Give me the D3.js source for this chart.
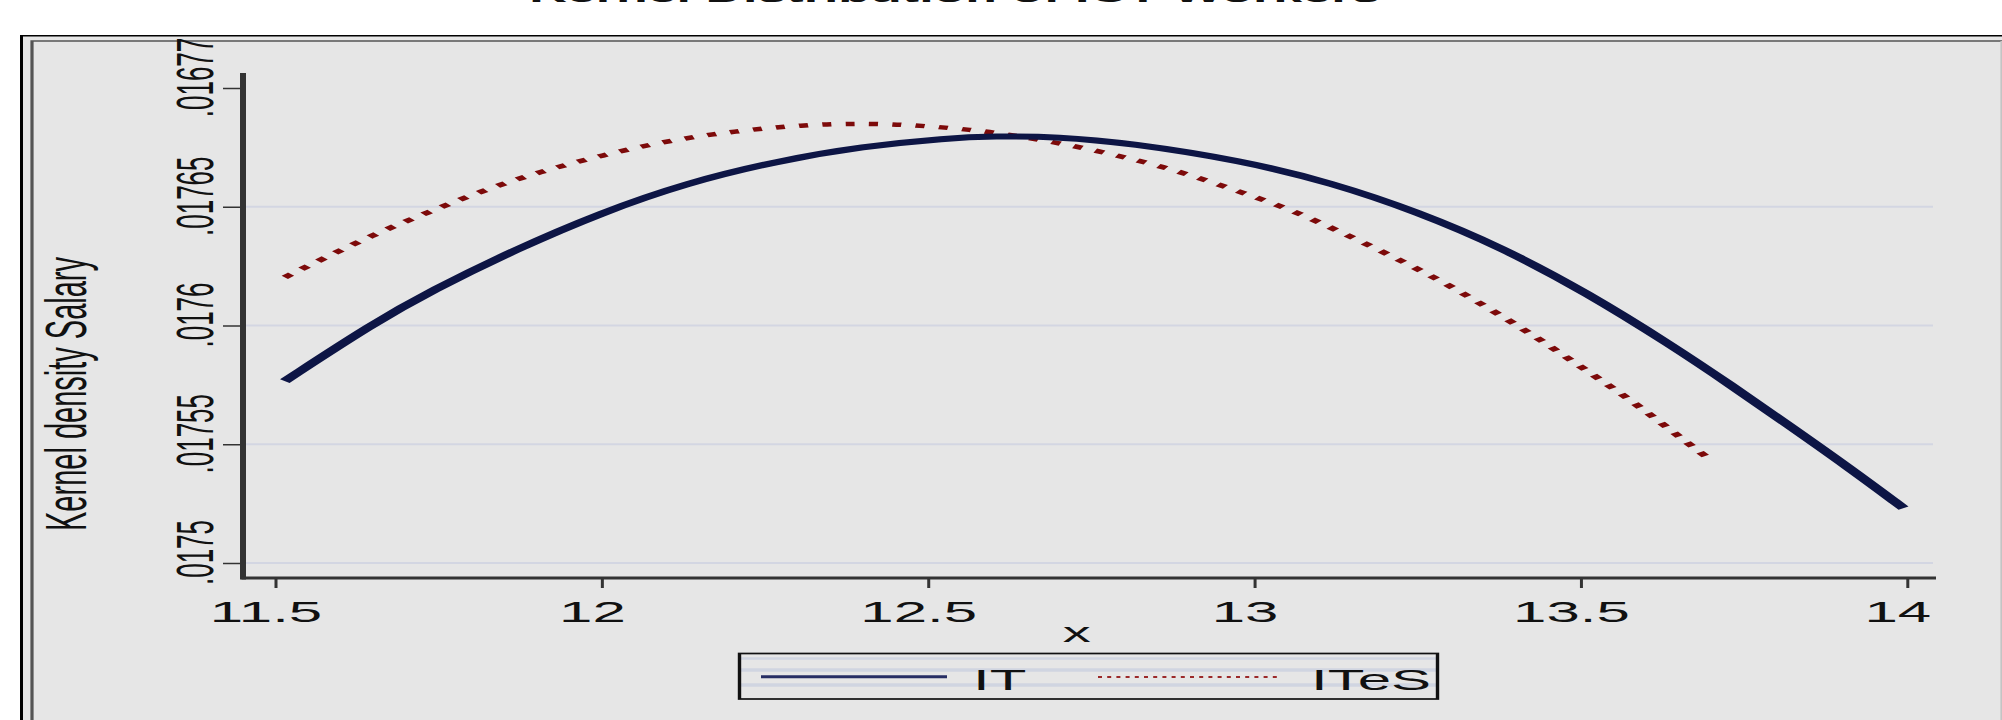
<!DOCTYPE html>
<html>
<head>
<meta charset="utf-8">
<script src="https://cdn.jsdelivr.net/npm/d3@7"></script>
<style>
  html, body { margin: 0; padding: 0; background: #ffffff; }
  svg { display: block; }
  text { font-family: "Liberation Sans", Arial, sans-serif; fill: #111; }
</style>
</head>
<body>
<svg id="chart" width="2002" height="720"></svg>
<script>
// ---------- data ----------
const titleText = "Kernel Distribution of ICT Workers";
const yTitle = "Kernel density Salary";
const xTitle = "x";
const seriesNames = ["IT", "ITeS"];

const xTicks = [11.5, 12, 12.5, 13, 13.5, 14];
const xTickLabels = ["11.5", "12", "12.5", "13", "13.5", "14"];
const yTicks = [0.0175, 0.01755, 0.0176, 0.01765, 0.0177];
const yTickLabels = [".0175", ".01755", ".0176", ".01765", ".01677"];
const yGridTicks = [0.0175, 0.01755, 0.0176, 0.01765];

const itX = [11.515, 11.65, 11.74, 11.87, 12.0, 12.13, 12.27, 12.4, 12.53, 12.6, 12.7, 12.81, 12.98, 13.12, 13.25, 13.38, 13.51, 13.64, 13.73, 13.82, 13.91, 13.995];
const itY = [0.0175766, 0.0176008, 0.0176147, 0.0176322, 0.0176475, 0.0176600, 0.0176693, 0.0176754, 0.0176789, 0.0176797, 0.0176795, 0.0176768, 0.0176695, 0.0176600, 0.0176479, 0.0176328, 0.0176138, 0.0175916, 0.0175750, 0.0175578, 0.0175404, 0.0175231];

const itesX = [11.515, 11.567, 11.647, 11.73, 11.814, 11.906, 12.003, 12.099, 12.205, 12.311, 12.386, 12.46, 12.571, 12.64, 12.742, 12.811, 12.875, 12.967, 13.055, 13.134, 13.213, 13.291, 13.363, 13.431, 13.495, 13.561, 13.622, 13.68, 13.702];
const itesY = [0.0176203, 0.0176273, 0.0176378, 0.0176472, 0.0176564, 0.0176648, 0.0176718, 0.0176777, 0.0176819, 0.0176845, 0.017685, 0.0176848, 0.0176824, 0.0176798, 0.0176747, 0.0176702, 0.0176658, 0.0176574, 0.017649, 0.0176392, 0.017629, 0.0176182, 0.0176067, 0.0175954, 0.0175836, 0.0175717, 0.0175594, 0.0175472, 0.017543];

// ---------- layout (inner coordinates, stretched 2x horizontally) ----------
const navy = "#0d1545";
const maroon = "#7d0a0a";
const bg = "#e6e6e6";
const axisColor = "#333333";

const svg = d3.select("#chart");
const root = svg.append("g").attr("transform", "scale(2,1)");

// graph region background + frame
root.append("rect").attr("x", 10).attr("y", 35).attr("width", 1000).attr("height", 700).attr("fill", bg);
root.append("path").attr("d", "M10.75,760V35.75H1010").attr("fill", "none").attr("stroke", "#000").attr("stroke-width", 1.5);
root.append("path").attr("d", "M16,760V41H1010").attr("fill", "none").attr("stroke", "#555").attr("stroke-width", 1.6);
root.append("line").attr("x1", 1000.6).attr("x2", 1000.6).attr("y1", 41).attr("y2", 720).attr("stroke", "#c4c4c4").attr("stroke-width", 0.8);

// title (mostly cut off at the top, as in the reference)
root.append("text").attr("x", 477.4).attr("y", 1.8).attr("text-anchor", "middle")
  .attr("font-size", 26).attr("font-weight", "bold").text(titleText);

// scales
const x = d3.scaleLinear().domain([11.5, 14]).range([137.5, 953.4]);
const y = d3.scaleLinear().domain([0.0175, 0.0177]).range([563, 88]);
const axisX0 = 121.5, axisX1 = 968, axisYTop = 73, axisYBottom = 578;

// gridlines
root.append("g").selectAll("line").data(yGridTicks).join("line")
  .attr("x1", axisX0).attr("x2", 966.5)
  .attr("y1", d => y(d)).attr("y2", d => y(d))
  .attr("stroke", "#d3d6e2").attr("stroke-width", 2.2);

// y axis
const yAxis = root.append("g").attr("transform", `translate(${axisX0},0)`)
  .call(d3.axisLeft(y).tickValues(yTicks).tickFormat((d, i) => yTickLabels[i]).tickSize(10).tickSizeOuter(0));
yAxis.select(".domain").remove();
yAxis.selectAll(".tick line").attr("stroke", axisColor).attr("stroke-width", 1.5);
yAxis.selectAll(".tick text")
  .attr("x", 11).attr("y", 0).attr("dy", 0)
  .attr("text-anchor", "middle")
  .attr("transform", "translate(-15,0) rotate(-90)")
  .attr("font-size", 26).attr("fill", "#111")
  .style("font-family", "'Liberation Sans', Arial, sans-serif");
root.append("line").attr("x1", axisX0).attr("x2", axisX0).attr("y1", axisYTop).attr("y2", axisYBottom + 1.5)
  .attr("stroke", axisColor).attr("stroke-width", 3);

// x axis
const xAxis = root.append("g").attr("transform", `translate(0,${axisYBottom})`)
  .call(d3.axisBottom(x).tickValues(xTicks).tickFormat((d, i) => xTickLabels[i]).tickSize(10).tickSizeOuter(0));
xAxis.select(".domain").remove();
xAxis.selectAll(".tick line").attr("stroke", axisColor).attr("stroke-width", 1.5);
xAxis.selectAll(".tick text")
  .attr("x", -5).attr("y", 44).attr("dy", 0)
  .attr("font-size", 30).attr("fill", "#111")
  .style("font-family", "'Liberation Sans', Arial, sans-serif");
root.append("line").attr("x1", axisX0 - 0.75).attr("x2", axisX1).attr("y1", axisYBottom).attr("y2", axisYBottom)
  .attr("stroke", axisColor).attr("stroke-width", 3);

// axis titles
root.append("text").attr("transform", "translate(43,394) rotate(-90)")
  .attr("text-anchor", "middle").attr("font-size", 29).text(yTitle);
root.append("text").attr("x", 538.4).attr("y", 642).attr("text-anchor", "middle")
  .attr("font-size", 28).text(xTitle);

// curves
const line = d3.line().x(d => x(d[0])).y(d => y(d[1])).curve(d3.curveBasis);
const itData = itX.map((v, i) => [v, itY[i]]);
const itesData = itesX.map((v, i) => [v, itesY[i]]);

root.append("path").datum(itesData).attr("d", line)
  .attr("fill", "none").attr("stroke", maroon).attr("stroke-width", 4.5)
  .attr("stroke-dasharray", "4.5,7.2").attr("stroke-linecap", "butt");
root.append("path").datum(itData).attr("d", line)
  .attr("fill", "none").attr("stroke", navy).attr("stroke-width", 6)
  .attr("stroke-linejoin", "round");

// legend
const lg = root.append("g");
lg.append("rect").attr("x", 369.75).attr("y", 653.5).attr("width", 349).attr("height", 45.5)
  .attr("fill", bg);
[658.5, 670, 685].forEach(yy => {
  lg.append("line").attr("x1", 370.5).attr("x2", 718).attr("y1", yy).attr("y2", yy)
    .attr("stroke", "#d0d5e1").attr("stroke-width", yy === 658.5 ? 2.5 : 3.5);
});
lg.append("rect").attr("x", 369.75).attr("y", 653.5).attr("width", 349).attr("height", 45.5)
  .attr("fill", "none").attr("stroke", "#111").attr("stroke-width", 1.7);
lg.append("line").attr("x1", 380.5).attr("x2", 473.5).attr("y1", 676.7).attr("y2", 676.7)
  .attr("stroke", "#262d63").attr("stroke-width", 3);
lg.append("text").attr("x", 486.5).attr("y", 690).attr("font-size", 30).text(seriesNames[0]);
lg.append("line").attr("x1", 549).attr("x2", 641).attr("y1", 677).attr("y2", 677)
  .attr("stroke", "#9b2a2a").attr("stroke-width", 2).attr("stroke-dasharray", "2,2.6");
lg.append("text").attr("x", 655.5).attr("y", 690).attr("font-size", 30).text(seriesNames[1]);
</script>
</body>
</html>
